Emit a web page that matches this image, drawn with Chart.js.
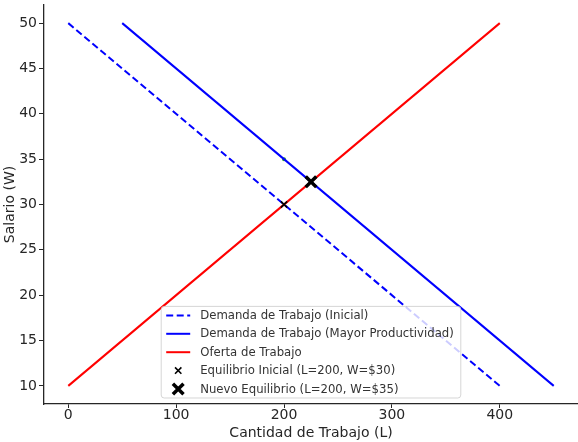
<!DOCTYPE html>
<html>
<head>
<meta charset="utf-8">
<script src="https://cdn.jsdelivr.net/npm/chart.js@4.4.1/dist/chart.umd.min.js"></script>
<style>
  html, body { margin: 0; padding: 0; background: #fff; overflow: hidden; }
  #wrap { width: 578px; height: 442px; }
</style>
</head>
<body>
<div id="wrap"><canvas id="laborChart"></canvas></div>
<script>
// labour quantity (L) and wage (W) end points of each curve
const demandInitialL = [0, 400];
const demandInitialW = [50, 10];
const demandNewL = [50, 450];
const demandNewW = [50, 10];
const supplyL = [0, 400];
const supplyW = [10, 50];
const eqInitial = [200, 30];
const eqNew = [225, 32.5];
const greenMark = [200, 35];

const xTickValues = [0, 100, 200, 300, 400];
const yTickValues = [10, 15, 20, 25, 30, 35, 40, 45, 50];

const labels = [
    'Demanda de Trabajo (Inicial)',
    'Demanda de Trabajo (Mayor Productividad)',
    'Oferta de Trabajo',
    'Equilibrio Inicial (L=200, W=$30)',
    'Nuevo Equilibrio (L=200, W=$35)'
];

const FONT = '"DejaVu Sans", sans-serif';
const TEXT = '#262626';

function toPoints(xs, ys) {
    return xs.map((x, i) => ({ x: x, y: ys[i] }));
}

// matplotlib-like legend, lower center inside the plot
const legendBox = {
    id: 'legendBox',
    afterDatasetsDraw(chart) {
        const ctx = chart.ctx;
        const area = chart.chartArea;
        const items = chart.data.datasets.filter(d => d.inLegend);
        const fs = 11.7;
        const rowH = 18.4;
        ctx.save();
        ctx.font = fs + 'px ' + FONT;
        let maxW = 0;
        items.forEach(d => { maxW = Math.max(maxW, ctx.measureText(d.label).width); });
        const w = 5 + 24 + 10 + maxW + 7;
        const h = 9 * 2 + rowH * (items.length - 1);
        const left = (area.left + area.right) / 2 - w / 2;
        const top = area.bottom - 6 - h;

        ctx.beginPath();
        ctx.roundRect(left, top, w, h, 3);
        ctx.fillStyle = 'rgba(255,255,255,0.8)';
        ctx.fill();
        ctx.strokeStyle = 'rgba(204,204,204,0.8)';
        ctx.lineWidth = 1;
        ctx.stroke();

        items.forEach((d, i) => {
            const y = top + 9 + i * rowH;
            const hx = left + 5;
            if (d.showLine) {
                ctx.beginPath();
                ctx.setLineDash(d.borderDash || []);
                ctx.strokeStyle = d.borderColor;
                ctx.lineWidth = d.borderWidth;
                ctx.moveTo(hx, y);
                ctx.lineTo(hx + 24, y);
                ctx.stroke();
                ctx.setLineDash([]);
            } else {
                const r = d.pointRadius * 0.707;
                const cx = hx + 12;
                ctx.beginPath();
                ctx.strokeStyle = d.pointBorderColor;
                ctx.lineWidth = d.pointBorderWidth;
                ctx.moveTo(cx - r, y - r); ctx.lineTo(cx + r, y + r);
                ctx.moveTo(cx - r, y + r); ctx.lineTo(cx + r, y - r);
                ctx.stroke();
            }
            ctx.fillStyle = '#333';
            ctx.textBaseline = 'middle';
            ctx.textAlign = 'left';
            ctx.fillText(d.label, hx + 34, y + 0.5);
        });
        ctx.restore();
    }
};

document.addEventListener('DOMContentLoaded', function() {
    const ctx = document.getElementById('laborChart').getContext('2d');
    new Chart(ctx, {
        type: 'scatter',
        data: {
            datasets: [
                {
                    label: labels[0],
                    data: toPoints(demandInitialL, demandInitialW),
                    showLine: true,
                    borderColor: '#0000ff',
                    borderWidth: 2,
                    borderDash: [7, 3.5],
                    pointRadius: 0,
                    inLegend: true,
                    order: 5
                },
                {
                    label: labels[1],
                    data: toPoints(demandNewL, demandNewW),
                    showLine: true,
                    borderColor: '#0000ff',
                    borderWidth: 2,
                    pointRadius: 0,
                    inLegend: true,
                    order: 4
                },
                {
                    label: labels[2],
                    data: toPoints(supplyL, supplyW),
                    showLine: true,
                    borderColor: '#ff0000',
                    borderWidth: 2,
                    pointRadius: 0,
                    inLegend: true,
                    order: 3
                },
                {
                    label: labels[3],
                    data: [{ x: eqInitial[0], y: eqInitial[1] }],
                    showLine: false,
                    pointStyle: 'crossRot',
                    pointRadius: 4.5,
                    pointBorderWidth: 1.6,
                    pointBorderColor: '#000',
                    pointBackgroundColor: '#000',
                    inLegend: true,
                    order: 1
                },
                {
                    label: labels[4],
                    data: [{ x: eqNew[0], y: eqNew[1] }],
                    showLine: false,
                    pointStyle: 'crossRot',
                    pointRadius: 7.5,
                    pointBorderWidth: 3.5,
                    pointBorderColor: '#000',
                    pointBackgroundColor: '#000',
                    inLegend: true,
                    order: 0
                },
                {
                    label: 'marca',
                    data: [{ x: greenMark[0], y: greenMark[1] }],
                    showLine: false,
                    pointStyle: 'circle',
                    pointRadius: 2,
                    pointBorderWidth: 0,
                    pointBackgroundColor: '#2ca02c',
                    inLegend: false,
                    order: 10
                }
            ]
        },
        options: {
            responsive: true,
            maintainAspectRatio: false,
            animation: false,
            layout: {
                autoPadding: false,
                padding: { top: 5, right: 0, left: 0, bottom: 0 }
            },
            plugins: {
                legend: { display: false },
                tooltip: { enabled: false }
            },
            scales: {
                x: {
                    min: -22.5,
                    max: 472.5,
                    afterBuildTicks: function(scale) {
                        scale.ticks = xTickValues.map(v => ({ value: v }));
                    },
                    afterFit: function(scale) {
                        scale.height = 38;
                        scale.paddingLeft = 0;
                        scale.paddingRight = 0;
                    },
                    ticks: {
                        color: TEXT,
                        font: { family: FONT, size: 14 },
                        padding: -1,
                        maxRotation: 0
                    },
                    grid: {
                        display: true,
                        drawOnChartArea: false,
                        drawTicks: true,
                        tickLength: 4,
                        color: TEXT,
                        tickWidth: 1
                    },
                    border: { display: true, color: TEXT, width: 1.3 },
                    title: {
                        display: true,
                        text: 'Cantidad de Trabajo (L)',
                        color: TEXT,
                        font: { family: FONT, size: 14 },
                        padding: { top: 0, bottom: 0 }
                    }
                },
                y: {
                    min: 8,
                    max: 52,
                    afterBuildTicks: function(scale) {
                        scale.ticks = yTickValues.map(v => ({ value: v }));
                    },
                    afterFit: function(scale) {
                        scale.width = 44;
                        scale.paddingTop = 0;
                        scale.paddingBottom = 0;
                    },
                    ticks: {
                        color: TEXT,
                        font: { family: FONT, size: 14 },
                        padding: 2
                    },
                    grid: {
                        display: true,
                        drawOnChartArea: false,
                        drawTicks: true,
                        tickLength: 5,
                        color: TEXT,
                        tickWidth: 1
                    },
                    border: { display: true, color: TEXT, width: 1.3 },
                    title: {
                        display: true,
                        text: 'Salario (W)',
                        color: TEXT,
                        font: { family: FONT, size: 14 },
                        padding: { top: 2, bottom: 0 }
                    }
                }
            }
        },
        plugins: [legendBox]
    });
});
</script>
</body>
</html>
